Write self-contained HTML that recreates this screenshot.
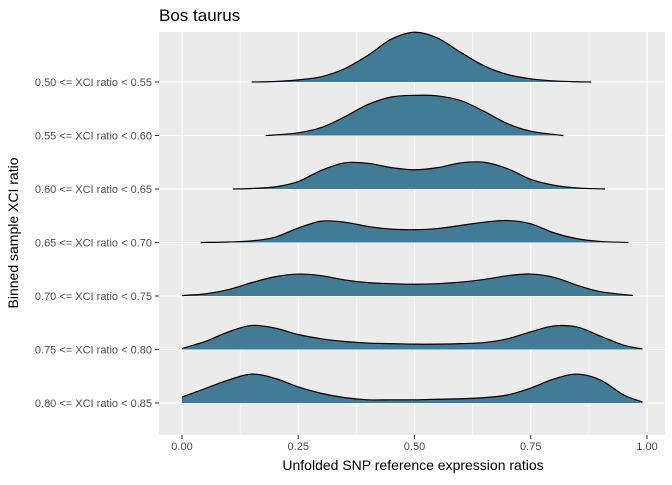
<!DOCTYPE html>
<html><head><meta charset="utf-8"><style>
body{margin:0;background:#fff;}
svg text{font-family:"Liberation Sans",sans-serif;}
</style></head><body>
<svg id="chart" width="672" height="480" xmlns="http://www.w3.org/2000/svg">
<text x="159" y="21" font-size="17" fill="#000">Bos taurus</text>
<rect x="159" y="32" width="506" height="403" fill="#ebebeb"/>
<g id="grid"></g>
<g id="ridges"></g>
<g id="axes"></g>
<text x="413" y="470" font-size="14" text-anchor="middle" fill="#000">Unfolded SNP reference expression ratios</text>
<text transform="translate(18,233) rotate(-90)" font-size="14" text-anchor="middle" fill="#000">Binned sample XCI ratio</text>
</svg>
<script>
const categories = ["0.50 <= XCI ratio < 0.55","0.55 <= XCI ratio < 0.60","0.60 <= XCI ratio < 0.65","0.65 <= XCI ratio < 0.70","0.70 <= XCI ratio < 0.75","0.75 <= XCI ratio < 0.80","0.80 <= XCI ratio < 0.85"];
const xTicks = [0, 0.25, 0.5, 0.75, 1];
const xTickLabels = ["0.00","0.25","0.50","0.75","1.00"];
const densX = [
 [0.15,0.2,0.25,0.3,0.35,0.4,0.45,0.5,0.55,0.6,0.65,0.7,0.75,0.8,0.85,0.88],
 [0.18,0.2,0.25,0.3,0.35,0.4,0.45,0.5,0.55,0.6,0.65,0.7,0.75,0.8,0.82],
 [0.11,0.15,0.2,0.25,0.3,0.35,0.4,0.45,0.5,0.55,0.6,0.65,0.7,0.75,0.8,0.85,0.91],
 [0.04,0.1,0.15,0.2,0.25,0.3,0.35,0.4,0.45,0.5,0.55,0.6,0.65,0.7,0.75,0.8,0.85,0.9,0.96],
 [0.0,0.05,0.1,0.15,0.2,0.25,0.3,0.35,0.4,0.45,0.5,0.55,0.6,0.65,0.7,0.75,0.8,0.85,0.9,0.97],
 [0.0,0.05,0.1,0.15,0.2,0.25,0.3,0.35,0.4,0.45,0.5,0.55,0.6,0.65,0.7,0.75,0.8,0.85,0.9,0.95,0.99],
 [0.0,0.05,0.1,0.15,0.2,0.25,0.3,0.35,0.4,0.45,0.5,0.55,0.6,0.65,0.7,0.75,0.8,0.85,0.9,0.95,0.99]
];
const densY = [
 [0,0.01,0.04,0.1,0.25,0.5,0.8,0.93,0.82,0.55,0.3,0.14,0.06,0.02,0.005,0],
 [0,0.01,0.05,0.15,0.35,0.58,0.72,0.75,0.74,0.65,0.45,0.22,0.08,0.02,0],
 [0,0.01,0.04,0.14,0.35,0.49,0.48,0.4,0.36,0.4,0.49,0.5,0.38,0.18,0.07,0.02,0],
 [0,0.01,0.03,0.1,0.27,0.4,0.38,0.3,0.25,0.24,0.26,0.32,0.38,0.41,0.35,0.18,0.07,0.02,0],
 [0.01,0.04,0.12,0.25,0.36,0.41,0.38,0.3,0.25,0.23,0.22,0.23,0.26,0.31,0.38,0.41,0.35,0.2,0.08,0.01],
 [0.02,0.15,0.33,0.45,0.4,0.28,0.2,0.15,0.12,0.11,0.1,0.1,0.11,0.13,0.2,0.33,0.44,0.42,0.25,0.08,0.01],
 [0.11,0.27,0.43,0.54,0.46,0.3,0.18,0.1,0.06,0.06,0.06,0.07,0.08,0.1,0.15,0.28,0.45,0.54,0.43,0.15,0.02]
];
const NS="http://www.w3.org/2000/svg";
const px0=182, px1=647, y0=82, dy=53.5;
function xs(v){return px0+(px1-px0)*v;}
function ys(i,h){return y0+dy*i - dy*h;}
function mk(tag,attrs,parent){const e=document.createElementNS(NS,tag);for(const k in attrs)e.setAttribute(k,attrs[k]);parent.appendChild(e);return e;}
const grid=document.getElementById('grid'), ridges=document.getElementById('ridges'), axes=document.getElementById('axes');
for(let i=0;i<xTicks.length-1;i++){
 const m=mk('line',{x1:xs((xTicks[i]+xTicks[i+1])/2),x2:xs((xTicks[i]+xTicks[i+1])/2),y1:32,y2:435,stroke:'#fff','stroke-width':0.5},grid);
 
 
}
xTicks.forEach((t,i)=>{
 const g=mk('line',{x1:xs(t),x2:xs(t),y1:32,y2:435,stroke:'#fff','stroke-width':1.1},grid);
 
 
 mk('line',{x1:xs(t),x2:xs(t),y1:435,y2:439,stroke:'#333'},axes);
 const tx=mk('text',{x:xs(t),y:450,'font-size':11,'text-anchor':'middle',fill:'#4d4d4d'},axes);
 tx.textContent=xTickLabels[i];
 
 
});
categories.forEach((c,i)=>{
 const y=y0+dy*i;
 const g=mk('line',{x1:159,x2:665,y1:y,y2:y,stroke:'#fff','stroke-width':1.1},grid);
 
 
 mk('line',{x1:155,x2:159,y1:y,y2:y,stroke:'#333'},axes);
 const tx=mk('text',{x:152,y:y+4,'font-size':11,'text-anchor':'end',fill:'#4d4d4d'},axes);
 tx.textContent=c;
 
 
});
function spline(pts){
 let d='';
 for(let i=0;i<pts.length-1;i++){
  const p0=pts[Math.max(0,i-1)],p1=pts[i],p2=pts[i+1],p3=pts[Math.min(pts.length-1,i+2)];
  const c1=[p1[0]+(p2[0]-p0[0])/6,p1[1]+(p2[1]-p0[1])/6];
  const c2=[p2[0]-(p3[0]-p1[0])/6,p2[1]-(p3[1]-p1[1])/6];
  d+=` C${c1[0]},${c1[1]} ${c2[0]},${c2[1]} ${p2[0]},${p2[1]}`;
 }
 return d;
}
categories.forEach((c,i)=>{
 const pts=densX[i].map((x,j)=>[xs(x),ys(i,densY[i][j])]);
 const base=y0+dy*i;
 const top='M'+pts[0][0]+','+pts[0][1]+spline(pts);
 const area=mk('path',{d:'M'+pts[0][0]+','+base+' L'+pts[0][0]+','+pts[0][1]+spline(pts)+' L'+pts[pts.length-1][0]+','+base+' Z',fill:'#417b95'},ridges);
 
 
 const line=mk('path',{d:top,fill:'none',stroke:'#000','stroke-width':1.2},ridges);
 
 
});
</script>
</body></html>
